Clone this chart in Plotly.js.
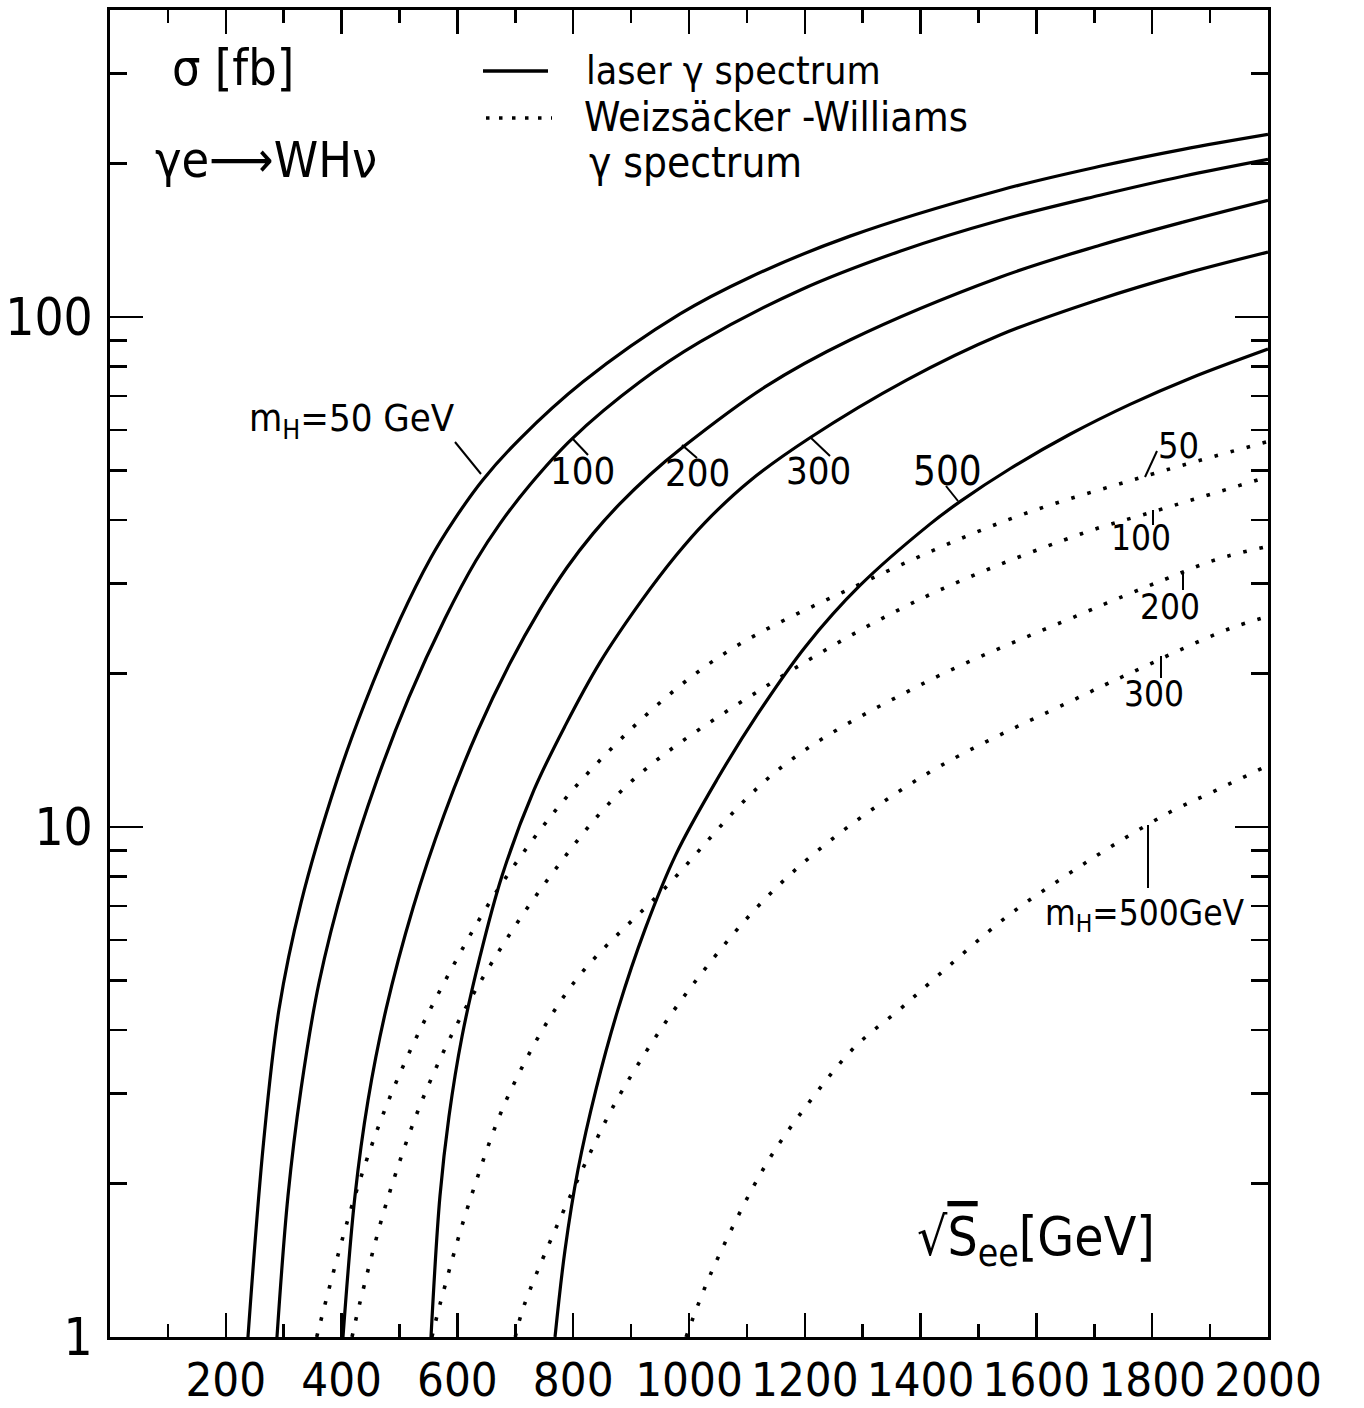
<!DOCTYPE html>
<html>
<head>
<meta charset="utf-8">
<script src="https://cdn.plot.ly/plotly-3.0.1.min.js"></script>
<style>html,body{margin:0;padding:0;background:#fff;}</style>
</head>
<body>
<div id="chart" style="width:1364px;height:1408px;"></div>
<script>
// ---------------- data (sqrt(S_ee) in GeV, sigma in fb) ----------------
// laser gamma spectrum (solid)
const laser50_E  = [238.3, 265.1, 291.9, 329.9, 392.1, 438.7, 500.9, 554.4, 592.4, 644.2, 708.1, 816.9, 984.5, 1105.4, 1278.1, 1537.1, 1709.8, 1853.2, 2000];
const laser50_S  = [1.0, 2.40, 4.39, 7.10, 12.36, 17.33, 25.53, 33.77, 39.72, 47.98, 57.71, 74.64, 101.4, 119.7, 144.1, 177.3, 197.5, 213.2, 228.1];
const laser100_E = [288.4, 307.4, 329.9, 361.0, 407.6, 461.1, 516.4, 578.6, 632.1, 673.6, 725.4, 797.9, 915.4, 1019.0, 1191.7, 1364.4, 1537.1, 1709.8, 1853.2, 2000];
const laser100_S = [1.0, 1.89, 3.06, 4.95, 8.02, 12.36, 17.97, 25.64, 33.31, 39.35, 46.91, 57.71, 74.64, 89.35, 112.9, 134.6, 154.8, 173.3, 188.8, 203.8];
const laser200_E = [402.4, 423.1, 445.6, 476.7, 523.3, 576.9, 635.6, 690.8, 742.7, 789.3, 834.2, 880.8, 932.6, 987.9, 1131.3, 1278.1, 1537.1, 1709.8, 1853.2, 2000];
const laser200_S = [1.0, 1.89, 2.91, 4.39, 6.94, 10.56, 15.48, 20.94, 26.71, 32.27, 37.61, 43.06, 49.07, 55.42, 72.95, 90.16, 119.7, 138.3, 153.5, 169.4];
const laser300_E = [554.4, 569.9, 585.5, 607.9, 639.0, 677.0, 732.3, 785.8, 846.3, 917.1, 977.5, 1027.6, 1105.4, 1209.0, 1376.5, 1537.1, 1709.8, 1853.2, 2000];
const laser300_S = [1.0, 1.89, 2.71, 3.88, 5.57, 8.02, 11.82, 15.77, 21.03, 27.69, 34.07, 39.54, 47.76, 57.98, 75.30, 92.21, 108.4, 121.4, 134.1];
const laser500_E = [768.6, 785.8, 808.3, 839.4, 877.4, 924.0, 977.5, 1048.4, 1117.4, 1202.1, 1295.3, 1416.2, 1468.0, 1554.4, 1658.0, 1761.7, 1867.0, 2000];
const laser500_S = [1.0, 1.48, 2.13, 3.06, 4.39, 6.30, 8.84, 12.39, 16.57, 22.65, 29.76, 39.26, 43.45, 50.41, 58.90, 67.42, 75.97, 86.56];
// Weizsaecker-Williams gamma spectrum (dotted)
const ww50_E  = [357, 423, 489, 577, 685, 832, 1040, 1294, 1550, 1784, 2000];
const ww50_S  = [1.0, 1.89, 3.06, 4.95, 8.0, 13.0, 21.1, 29.9, 40, 48.6, 57];
const ww100_E = [418, 431, 481, 547, 631, 760, 901, 1140, 1400, 1678, 1801, 2000];
const ww100_S = [1.0, 1.16, 1.89, 3.06, 4.78, 8.0, 12.3, 19.1, 28, 37.6, 41.5, 48.6];
const ww200_E = [556, 570, 624, 693, 801, 959, 1156, 1400, 1675, 1822, 1912, 2000];
const ww200_S = [1.0, 1.16, 1.89, 3.06, 4.95, 7.6, 13.0, 19, 26.1, 30.6, 33.5, 35.5];
const ww300_E = [700, 716, 824, 886, 1009, 1171, 1400, 1684, 1793, 1865, 1934, 2000];
const ww300_S = [1.0, 1.16, 2.23, 3.06, 4.95, 8.0, 12.5, 18.2, 20.8, 22.7, 24.5, 25.9];
const ww500_E = [995, 1040, 1133, 1210, 1287, 1364, 1416, 1551, 1649, 1736, 1831, 1910, 2000];
const ww500_S = [1.0, 1.35, 2.18, 2.91, 3.71, 4.39, 4.95, 6.7, 8.0, 9.26, 10.7, 11.8, 13.2];

// axis ticks
const xTickVals  = [200, 400, 600, 800, 1000, 1200, 1400, 1600, 1800, 2000];
const xTickText  = ['200', '400', '600', '800', '1000', '1200', '1400', '1600', '1800', '2000'];
const xMinorVals = [100, 300, 500, 700, 900, 1100, 1300, 1500, 1700, 1900];
const yTickVals  = [1, 10, 100];
const yTickText  = ['1', '10', '100'];
const yMinorVals = [2, 3, 4, 5, 6, 7, 8, 9, 20, 30, 40, 50, 60, 70, 80, 90, 200, 300];

// ---------------- drawing ----------------
const FONT = 'DejaVu Sans Condensed, DejaVu Sans, sans-serif';
const SOLID = {color: '#000', width: 3.2, shape: 'spline', smoothing: 1.0};
const DOTTED = {color: '#000', width: 3.6, shape: 'spline', smoothing: 1.0, dash: '3.6px,13px'};

const series = [
  [laser50_E, laser50_S, SOLID], [laser100_E, laser100_S, SOLID], [laser200_E, laser200_S, SOLID],
  [laser300_E, laser300_S, SOLID], [laser500_E, laser500_S, SOLID],
  [ww50_E, ww50_S, DOTTED], [ww100_E, ww100_S, DOTTED], [ww200_E, ww200_S, DOTTED],
  [ww300_E, ww300_S, DOTTED], [ww500_E, ww500_S, DOTTED]
];
const traces = series.map(s => ({x: s[0], y: s[1], type: 'scatter', mode: 'lines', line: s[2], hoverinfo: 'skip', showlegend: false}));

// plot area in page pixels: left 110, right 1268, top 10, bottom 1337
const L = 110, R = 1268, T = 10, B = 1337;
const PX = p => (p - L) / (R - L);
const PY = p => (B - p) / (B - T);

function txt(text, px, py, size, xa) {
  return {text: text, xref: 'paper', yref: 'paper', x: PX(px), y: PY(py), xanchor: xa || 'center', yanchor: 'middle',
          showarrow: false, font: {family: FONT, size: size, color: '#000'}};
}
function seg(x0, y0, x1, y1, w, dash) {
  return {type: 'line', xref: 'paper', yref: 'paper', x0: PX(x0), y0: PY(y0), x1: PX(x1), y1: PY(y1),
          line: {color: '#000', width: w, dash: dash || 'solid'}};
}

const annotations = [
  txt('σ [fb]', 233, 68, 50),
  txt('γe⟶WHν', 266, 160, 50),
  txt('laser γ spectrum', 584, 70, 39, 'left'),
  txt('Weizsäcker -Williams', 582, 117, 41, 'left'),
  txt('γ spectrum', 587, 163, 42, 'left'),
  txt('m<sub>H</sub>=50 GeV', 352, 420, 38),
  txt('100', 582, 471, 38),
  txt('200', 697, 473, 38),
  txt('300', 818, 471, 38),
  txt('500', 947, 471, 40),
  txt('50', 1178, 445, 36),
  txt('100', 1141, 538, 35),
  txt('200', 1170, 607, 35),
  txt('300', 1154, 694, 35),
  txt('m<sub>H</sub>=500GeV', 1145, 915, 35),
  txt('√<span style="text-decoration:overline">S</span><sub>ee</sub>[GeV]', 1036, 1240, 53)
];

const shapes = [
  seg(483, 71, 548, 71, 3.5),
  seg(486, 118, 552, 118, 3.5, '3.5px,9.5px'),
  seg(455, 442, 481, 474, 2),
  seg(572, 438, 588, 455, 2),
  seg(682, 445, 697, 458, 2),
  seg(810, 437, 830, 456, 2),
  seg(946, 486, 958, 501, 2),
  seg(1145, 477, 1157, 451, 2),
  seg(1153, 510, 1153, 525, 2),
  seg(1183, 572, 1183, 590, 2),
  seg(1161, 656, 1161, 678, 2),
  seg(1148, 825, 1148, 888, 2)
];

const layout = {
  width: 1364, height: 1408,
  margin: {l: L, r: 1364 - R, t: T, b: 1408 - B, pad: 0},
  paper_bgcolor: '#fff', plot_bgcolor: '#fff',
  showlegend: false,
  font: {family: FONT, color: '#000'},
  xaxis: {
    range: [0, 2000], tickmode: 'array', tickvals: xTickVals, ticktext: xTickText, tickangle: 0,
    ticks: 'inside', ticklen: 24, tickwidth: 2.5, tickcolor: '#000',
    showline: true, linewidth: 3, linecolor: '#000', mirror: 'ticks',
    showgrid: false, zeroline: false, ticklabelstandoff: 0,
    tickfont: {family: FONT, size: 47, color: '#000'},
    minor: {tickmode: 'array', tickvals: xMinorVals, ticks: 'inside', ticklen: 13, tickwidth: 2.5, tickcolor: '#000', showgrid: false}
  },
  yaxis: {
    type: 'log', range: [0, Math.log10(400)], tickmode: 'array', tickvals: yTickVals, ticktext: yTickText,
    ticks: 'inside', ticklen: 33, tickwidth: 2.5, tickcolor: '#000',
    showline: true, linewidth: 3, linecolor: '#000', mirror: 'ticks',
    showgrid: false, zeroline: false, ticklabelstandoff: 4,
    tickfont: {family: FONT, size: 51, color: '#000'},
    minor: {tickmode: 'array', tickvals: yMinorVals, ticks: 'inside', ticklen: 17, tickwidth: 2.5, tickcolor: '#000', showgrid: false}
  },
  annotations: annotations,
  shapes: shapes
};

Plotly.newPlot('chart', traces, layout, {staticPlot: true, displayModeBar: false});
</script>
</body>
</html>
